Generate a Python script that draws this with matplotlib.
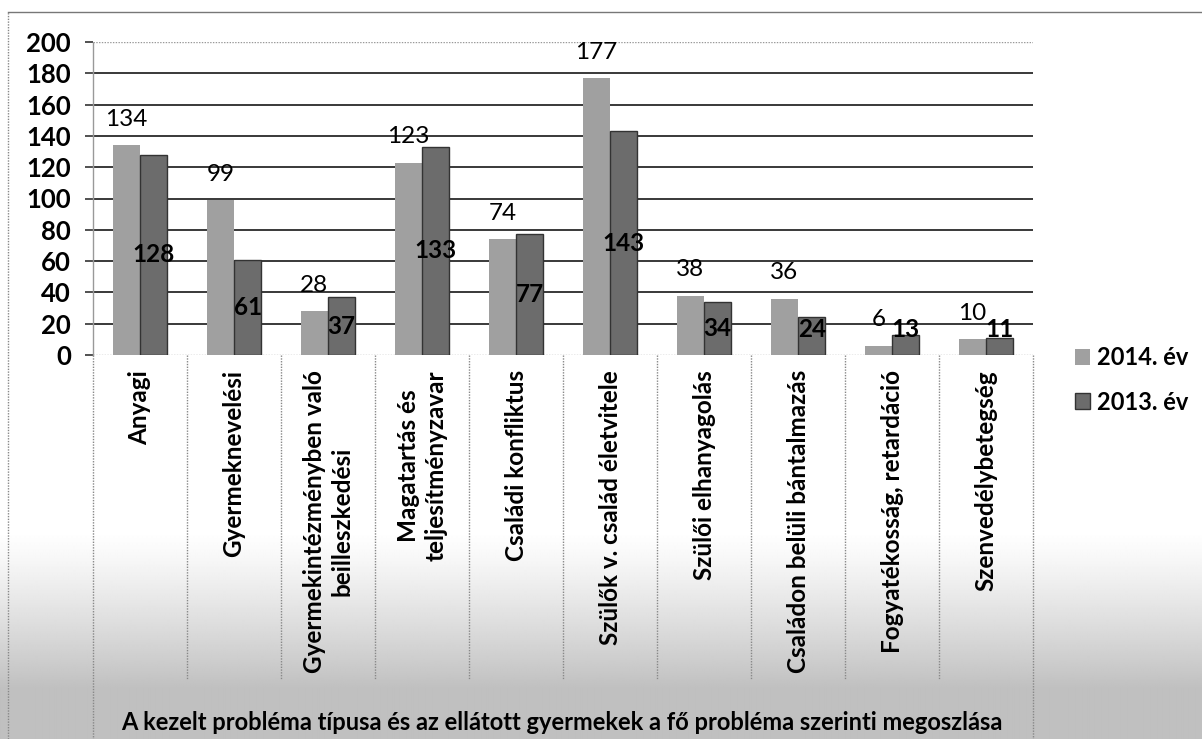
import numpy as np
import matplotlib
matplotlib.use("Agg")
import matplotlib.pyplot as plt
from matplotlib.lines import Line2D
import matplotlib.transforms as mtransforms

# ---------------- data ----------------
categories = [
    "Anyagi",
    "Gyermeknevelési",
    "Gyermekintézményben való\nbeilleszkedési",
    "Magatartás és\nteljesítményzavar",
    "Családi konfliktus",
    "Szülők v. család életvitele",
    "Szülői elhanyagolás",
    "Családon belüli bántalmazás",
    "Fogyatékosság, retardáció",
    "Szenvedélybetegség",
]
series_names = ["2014. év", "2013. év"]
values_2014 = [134, 99, 28, 123, 74, 177, 38, 36, 6, 10]
values_2013 = [128, 61, 37, 133, 77, 143, 34, 24, 13, 11]
yticks = [0, 20, 40, 60, 80, 100, 120, 140, 160, 180, 200]
title = "A kezelt probléma típusa és az ellátott gyermekek a fő probléma szerinti megoszlása"

# ---------------- style ----------------
FONT = ["Lato", "DejaVu Sans"]
plt.rcParams["font.family"] = FONT
W, H = 1202, 739
fig = plt.figure(figsize=(W / 100, H / 100), dpi=100)
fig.patch.set_facecolor("white")

# background: scanned grey fade at bottom
bg = fig.add_axes([0, 0, 1, 1], zorder=-10)
rows = np.arange(H)
s = np.clip((rows - 530) / 160.0, 0, 1) ** 1.2
gray = 1 - 0.25 * s
img = np.repeat(gray[:, None], 8, axis=1)
bg.imshow(img, cmap="gray", vmin=0, vmax=1, aspect="auto", extent=[0, 1, 0, 1],
          origin="upper", interpolation="bilinear")
bg.set_axis_off()

# outer frame lines (top & left)
fig.add_artist(Line2D([8 / W, 1], [1 - 12 / H, 1 - 12 / H], color="#777777", lw=1.0))
fig.add_artist(Line2D([8 / W, 8 / W], [0, 1 - 12 / H], color="#888888", lw=1.0, ls=(0, (1, 1))))

left, right = 93 / W, 1033 / W
bottom, top = 1 - 355 / H, 1 - 42 / H
ax = fig.add_axes([left, bottom, right - left, top - bottom])
ax.patch.set_visible(False)

x = np.arange(len(categories))
bw = 0.29
off = 0.145
c2014 = "#a0a0a0"
c2013 = "#6c6c6c"
b1 = ax.bar(x - off, values_2014, bw, color=c2014, edgecolor="none", zorder=3, label=series_names[0])
b2 = ax.bar(x + off, values_2013, bw, color=c2013, edgecolor="#333333", linewidth=1.0, zorder=3,
            label=series_names[1])

ax.set_xlim(-0.5, len(categories) - 0.5)
ax.set_ylim(0, 200)
ax.set_yticks(yticks)
ax.set_yticklabels([str(t) for t in yticks])
ax.set_xticks([])
ax.tick_params(axis="y", length=6, width=1.2, color="#333333", pad=10, labelsize=18.5)
for lab in ax.get_yticklabels():
    lab.set_fontweight("bold")
    lab.set_family(FONT)

ax.yaxis.grid(True, color="#2a2a2a", linewidth=1.3, zorder=0)
ax.set_axisbelow(True)
gls = ax.get_ygridlines()
for i in (0, len(gls) - 1):
    gls[i].set_color("#999999")
    gls[i].set_linestyle((0, (1, 1)))
    gls[i].set_linewidth(1.0)

for sp in ("top", "right", "bottom"):
    ax.spines[sp].set_visible(False)
ax.spines["left"].set_color("#999999")
ax.spines["left"].set_linestyle((0, (1, 1)))
ax.spines["left"].set_linewidth(1.0)

# data labels
for xi, v in zip(x, values_2014):
    ax.text(xi - off, v + 16.5, str(v), ha="center", va="center", fontsize=17.5,
            color="black", zorder=5)
for xi, v in zip(x, values_2013):
    ax.text(xi + off, max(v / 2, 16.5), str(v), ha="center", va="center", fontsize=17.5,
            fontweight="bold", color="black", zorder=5)

# category boxes and labels
trans = mtransforms.blended_transform_factory(ax.transData, ax.transAxes)
ax_h = 355 - 42
y_sep = -(680 - 355) / ax_h
y_bot = -(739 - 355) / ax_h
n = len(categories)
for k in range(n + 1):
    xb = k - 0.5
    yb = y_bot if k in (0, n) else y_sep
    ax.add_line(Line2D([xb, xb], [0, yb], transform=trans, color="#888888", lw=1.0,
                       ls=(0, (1, 1)), clip_on=False))
y_lab = -(370 - 355) / ax_h
for xi, name in zip(x, categories):
    ax.text(xi, y_lab, name, transform=trans, rotation=90, ha="center", va="top",
            multialignment="center", fontsize=17.5, fontweight="bold", color="black",
            linespacing=1.25)

# title
fig.text((108 + 1016) / 2 / W, 1 - 723 / H, title, ha="center", va="center",
         fontsize=17, fontweight="bold", color="black")

# legend
leg = ax.legend(handles=[b1, b2], labels=series_names, loc="center left",
                bbox_to_anchor=(1075 / W, 1 - 380 / H), bbox_transform=fig.transFigure,
                frameon=False, borderaxespad=0, borderpad=0, handlelength=0.65,
                handleheight=0.65, handletextpad=0.3, labelspacing=0.9,
                prop={"family": FONT, "weight": "bold", "size": 17})

fig.savefig("out.png", dpi=100)
